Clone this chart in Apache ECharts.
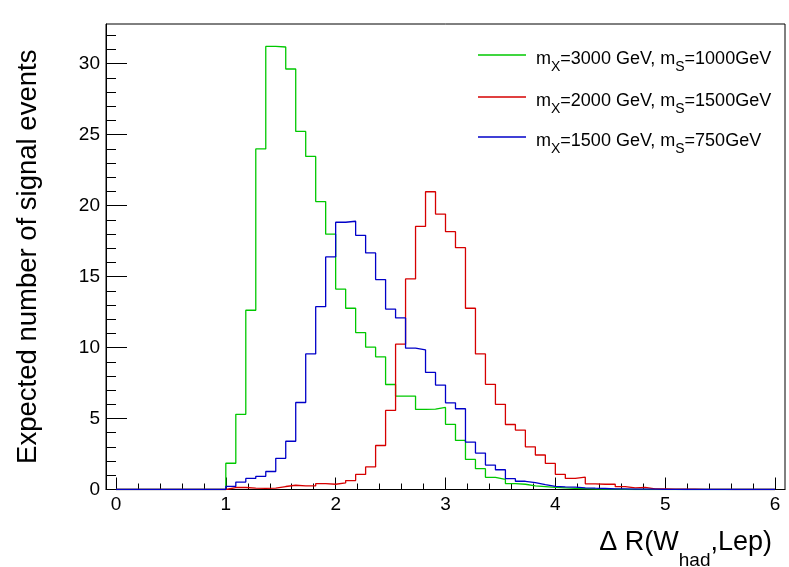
<!DOCTYPE html>
<html><head><meta charset="utf-8">
<script src="https://cdn.jsdelivr.net/npm/echarts@6/dist/echarts.min.js"></script>
<style>html,body{margin:0;padding:0;background:#fff}#c{width:789px;height:567px}</style>
</head><body><div id="c"></div>
<script>
// Histogram: 66 bins of width 1/11 on [0, 6]
const binCount = 66;
const binWidth = 1 / 11;
const massX = ['3000', '2000', '1500'];
const massS = ['1000', '1500', '750'];
const seriesNames = ['m_X=3000 GeV, m_S=1000GeV', 'm_X=2000 GeV, m_S=1500GeV', 'm_X=1500 GeV, m_S=750GeV'];
const seriesColors = ['#00c800', '#d60000', '#0000c8'];

const greenValues = [
  0,0,0,0,0,0,0,0,0,0,0,
  1.85,5.30,12.63,24.0,31.22,31.18,29.63,25.23,23.47,20.29,
  17.99,14.12,12.77,11.06,10.03,9.35,7.40,6.58,6.58,5.64,
  5.66,5.78,4.59,3.46,2.12,1.47,0.86,0.72,0.41,0.37,
  0.25,0.20,0.15,0.12,0.08,0.06,0.04,0.03,0.02,0.01,
  0,0,0,0,0,0,0,0,0,0,0,0,0,0,0
];
const redValues = [
  0,0,0,0,0,0,0,0,0,0,0,
  0.14,0.14,0.10,0.08,0.10,0.21,0.30,0.25,0.25,0.42,
  0.37,0.46,0.63,1.06,1.59,3.10,5.57,10.24,14.84,18.54,
  20.98,19.41,18.17,17.04,12.77,9.55,7.41,6.00,4.58,4.19,
  3.01,2.43,1.84,1.07,0.78,0.87,0.40,0.37,0.37,0.20,
  0.12,0.15,0.05,0.05,0.03,0.03,0.02,0.01,0.01,0.01,
  0,0,0,0,0
];
const blueValues = [
  0,0,0,0,0,0,0,0,0,0,0,
  0.22,0.52,0.78,0.93,1.27,2.20,3.40,6.13,9.55,12.88,
  16.39,18.83,18.90,17.91,16.67,14.79,12.71,12.09,9.96,9.84,
  8.25,7.36,6.11,5.69,3.34,2.57,1.72,1.39,0.76,0.58,
  0.48,0.34,0.22,0.19,0.17,0.12,0.09,0.07,0.05,0.04,
  0.03,0.02,0.02,0.01,0.01,
  0,0,0,0,0,0,0,0,0,0
];

const xTickLabels = [0, 1, 2, 3, 4, 5, 6];
const xMinorTicks = [0.2,0.4,0.6,0.8,1.2,1.4,1.6,1.8,2.2,2.4,2.6,2.8,3.2,3.4,3.6,3.8,4.2,4.4,4.6,4.8,5.2,5.4,5.6,5.8];
const yTickLabels = [0, 5, 10, 15, 20, 25, 30];
const yMinorTicks = [1,2,3,4,6,7,8,9,11,12,13,14,16,17,18,19,21,22,23,24,26,27,28,29,31,32];

const xMin = -binWidth, xMax = 6 + binWidth, yMin = 0, yMax = 32.8;
const FONT = '"Liberation Sans", Arial, Helvetica, sans-serif';

function stepData(values) {
  const d = values.map((v, k) => [k * binWidth, v]);
  d.push([binCount * binWidth, values[values.length - 1]]);
  return d;
}

const allValues = [greenValues, redValues, blueValues];
const chart = echarts.init(document.getElementById('c'), null, {renderer: 'canvas'});

const legendTops = [43, 85, 125];
const legendRich = {
  n: {fontSize: 18, color: '#000', fontFamily: FONT, lineHeight: 24, verticalAlign: 'top', padding: [7, 0, 0, 0]},
  p: {fontSize: 18, color: '#000', fontFamily: FONT, lineHeight: 24, verticalAlign: 'top', padding: [7, 0, 0, 5]},
  s: {fontSize: 14, color: '#000', fontFamily: FONT, lineHeight: 14, verticalAlign: 'top', padding: [17, 0, 0, 0]}
};

const option = {
  animation: false,
  backgroundColor: '#fff',
  grid: {left: 106, top: 24, width: 679, height: 465.5, show: true, borderColor: '#000', borderWidth: 1,
    backgroundColor: 'transparent', containLabel: false, outerBoundsMode: 'none'},
  legend: seriesNames.map((n, i) => ({
    data: [n], left: 478, top: legendTops[i], padding: 0, itemWidth: 48, itemHeight: 1.4,
    icon: 'rect', selectedMode: false,
    formatter: () => `{p|m}{s|X}{n|=${massX[i]} GeV, m}{s|S}{n|=${massS[i]}GeV}`,
    textStyle: {rich: legendRich}
  })),
  xAxis: [{
    type: 'value', min: xMin, max: xMax, position: 'bottom',
    axisLine: {show: true, onZero: false, lineStyle: {color: '#000', width: 1}},
    axisTick: {show: true, inside: true, length: 12, customValues: xTickLabels, lineStyle: {color: '#000', width: 1}},
    axisLabel: {customValues: xTickLabels, color: '#000', fontSize: 19, fontFamily: FONT, margin: 6},
    splitLine: {show: false},
    name: '{m|Δ R(W}{s|had}{m|,Lep)}', nameLocation: 'end', nameGap: -13,
    nameTextStyle: {align: 'right', verticalAlign: 'top', padding: [40, 0, 0, 0],
      rich: {
        m: {fontSize: 27, color: '#000', fontFamily: FONT, lineHeight: 30, verticalAlign: 'top'},
        s: {fontSize: 19, color: '#000', fontFamily: FONT, lineHeight: 20, verticalAlign: 'top', padding: [22, 0, 0, 0]}
      }}
  }, {
    type: 'value', min: xMin, max: xMax, position: 'bottom',
    axisLine: {show: false, onZero: false},
    axisTick: {show: true, inside: true, length: 6, customValues: xMinorTicks, lineStyle: {color: '#000', width: 1}},
    axisLabel: {show: false}, splitLine: {show: false}
  }],
  yAxis: [{
    type: 'value', min: yMin, max: yMax, position: 'left',
    axisLine: {show: true, onZero: false, lineStyle: {color: '#000', width: 1}},
    axisTick: {show: true, inside: true, length: 21, customValues: yTickLabels, lineStyle: {color: '#000', width: 1}},
    axisLabel: {customValues: yTickLabels, color: '#000', fontSize: 19, fontFamily: FONT, margin: 6},
    splitLine: {show: false},
    name: 'Expected number of signal events', nameLocation: 'middle', nameGap: 64,
    nameTextStyle: {fontSize: 27.5, color: '#000', fontFamily: FONT}
  }, {
    type: 'value', min: yMin, max: yMax, position: 'left',
    axisLine: {show: false, onZero: false},
    axisTick: {show: true, inside: true, length: 10, customValues: yMinorTicks, lineStyle: {color: '#000', width: 1}},
    axisLabel: {show: false}, splitLine: {show: false}
  }],
  series: seriesNames.map((n, i) => ({
    name: n, type: 'line', xAxisIndex: 0, yAxisIndex: 0, step: 'end',
    symbol: 'none', clip: true,
    lineStyle: {color: seriesColors[i], width: 1.3},
    itemStyle: {color: seriesColors[i]},
    data: stepData(allValues[i])
  }))
};
chart.setOption(option);
</script></body></html>
